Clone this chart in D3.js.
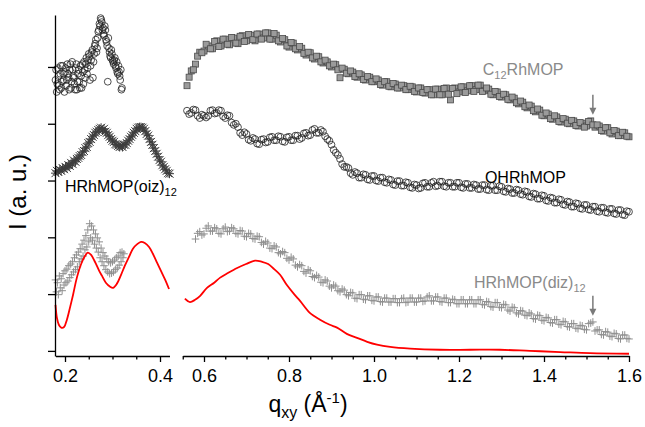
<!DOCTYPE html>
<html>
<head>
<meta charset="utf-8">
<script src="https://cdnjs.cloudflare.com/ajax/libs/d3/7.8.5/d3.min.js"></script>
<style>
  body { margin: 0; background: #fff; }
  svg { display: block; font-family: Arial, "Liberation Sans", sans-serif; }
  .axis path, .axis line { stroke: #000; stroke-width: 1.3; }
  .axis text { font-size: 18px; fill: #000; }
</style>
</head>
<body>
<script>
'use strict';

// ---- data (intensity in arbitrary units, q in 1/Angstrom) ----

// left panel, q sampling of each scan (two interleaved passes for OH)
var qLeftOH  = d3.range(0.18, 0.3201, 0.0025);
var qLeftOH2 = d3.range(0.18125, 0.3195, 0.0025);
var qLeftOiz = d3.range(0.18, 0.4201, 0.003);
var qLeftDiz = d3.range(0.18, 0.3241, 0.002);

// OHRhMOP, low q (open circles, top left)
var iLeftOH = [47.7, 45.6, 49.8, 46.8, 48.8, 46.3, 50.2, 47.7, 49.1, 46.7,
               50.5, 48.1, 49.5, 46.3, 50.9, 48.4, 47.0, 49.8, 46.0, 48.8,
               47.4, 50.2, 46.3, 49.1, 50.9, 48.1, 51.6, 49.8, 52.3, 47.7,
               51.2, 53.0, 50.9, 53.7, 54.8, 53.3, 56.2, 57.6, 58.6, 57.9,
               56.9, 55.5, 56.5, 54.4, 47.4, 53.3, 51.9, 53.0, 51.2, 50.5,
               51.6, 49.8, 49.1, 50.2, 48.4, 49.5, 46.3];
var iLeftOH2 = [49.5, 47.0, 48.4, 46.0, 50.2, 47.4, 48.8, 45.6, 49.8, 47.7,
                48.8, 46.0, 50.5, 47.4, 49.5, 48.1, 46.0, 50.5, 47.4, 49.5,
                46.3, 48.4, 50.5, 47.0, 49.5, 50.5, 48.8, 51.2, 51.9, 50.2,
                52.6, 48.1, 52.3, 54.1, 52.6, 55.1, 56.5, 57.2, 58.3, 56.5,
                55.8, 57.2, 54.8, 53.7, 55.1, 52.6, 51.6, 52.3, 50.9, 51.2,
                50.2, 50.9, 48.8, 49.1, 47.7, 46.0];

// HRhMOP(oiz)12 (dark crosses)
var iLeftOiz = [31.3, 31.7, 31.5, 31.9, 31.7, 32.2, 32.0, 32.4, 32.2, 32.7,
                32.6, 33.1, 32.9, 33.5, 33.3, 33.8, 34.0, 34.3, 34.5, 35.0,
                35.2, 35.7, 35.9, 36.6, 36.8, 37.3, 37.7, 38.0, 38.4, 38.6,
                38.9, 39.1, 39.3, 38.9, 39.1, 38.6, 38.4, 38.0, 37.7, 37.3,
                37.0, 36.8, 36.4, 36.3, 36.1, 35.9, 36.1, 35.9, 36.3, 36.3,
                36.6, 37.0, 37.3, 37.7, 38.0, 38.4, 38.7, 39.1, 39.3, 39.4,
                39.4, 39.3, 39.1, 38.7, 38.2, 37.9, 37.3, 36.8, 36.3, 35.7,
                35.2, 34.7, 34.2, 33.6, 33.3, 32.7, 32.4, 32.0, 31.7, 31.3,
                31.2];

// HRhMOP(diz)12, low q (grey plus)
var iLeftDiz = [12.5, 10.4, 12.0, 9.9, 13.2, 11.1, 12.7, 10.6, 13.6, 11.6,
                14.1, 12.0, 14.4, 12.3, 15.0, 12.9, 15.3, 13.4, 15.7, 13.9,
                16.4, 14.3, 16.9, 14.8, 17.4, 15.7, 18.0, 16.2, 18.8, 16.7,
                19.5, 17.8, 20.3, 18.3, 21.3, 19.2, 22.4, 19.9, 22.0, 19.5,
                21.3, 18.8, 20.6, 18.1, 19.9, 17.4, 19.2, 16.4, 18.1, 15.7,
                17.3, 15.0, 16.7, 14.3, 16.2, 13.9, 15.7, 13.6, 15.5, 13.7,
                15.7, 13.9, 16.0, 14.3, 16.4, 14.6, 16.7, 15.1, 17.3, 15.7,
                17.4, 16.4, 17.1];

// simulated curve (red), left and right
var qFitLeft = [0.18, 0.183, 0.187, 0.192, 0.198, 0.204, 0.211, 0.217, 0.225, 0.234,
                0.242, 0.248, 0.255, 0.263, 0.272, 0.278, 0.286, 0.295, 0.301, 0.309,
                0.318, 0.326, 0.335, 0.343, 0.352, 0.36, 0.368, 0.377, 0.385, 0.394,
                0.402, 0.411, 0.419];
var iFitLeft = [8.1, 5.8, 4.6, 4.1, 4.2, 5.5, 7.8, 9.9, 12.9, 15.3,
                16.7, 17.3, 16.9, 15.7, 14.1, 13.2, 12.0, 11.3, 11.1, 11.8,
                13.4, 15.0, 16.6, 18.0, 18.8, 19.2, 19.0, 18.3, 17.1, 15.5,
                14.1, 12.5, 10.9];
var qFitRight = [0.555, 0.567, 0.579, 0.591, 0.607, 0.624, 0.638, 0.656, 0.678, 0.699,
                 0.72, 0.736, 0.751, 0.765, 0.779, 0.795, 0.812, 0.826, 0.849, 0.873,
                 0.896, 0.913, 0.936, 0.96, 0.984, 1.007, 1.038, 1.085, 1.155, 1.226,
                 1.296, 1.367, 1.438, 1.508, 1.6];
var iFitRight = [9.2, 8.6, 9.0, 9.7, 11.1, 12.0, 12.9, 13.7, 14.6, 15.3,
                 15.9, 15.7, 15.3, 14.4, 13.4, 11.6, 10.0, 8.8, 6.7, 5.5,
                 4.6, 4.1, 3.0, 2.3, 1.6, 1.1, 0.7, 0.4, 0.2, 0.2,
                 0.2, 0.0, -0.2, -0.4, -0.5];

// right panel: two interleaved q passes, 0.56 .. 1.60 and 0.565 .. 1.595
var qRight  = d3.range(0.56, 1.6001, 0.01);
var qRight2 = d3.range(0.565, 1.5951, 0.01);

var iC12 = [46.7, 49.3, 50.5, 52.6, 52.8, 53.7, 53.2, 54.6, 53.7, 54.9,
            53.9, 55.1, 54.1, 55.5, 54.6, 55.6, 54.6, 55.8, 55.1, 56.0,
            54.9, 55.6, 54.4, 54.8, 53.5, 54.2, 53.0, 53.3, 52.1, 52.5,
            51.4, 51.8, 50.7, 50.9, 50.0, 50.4, 48.1, 49.6, 48.8, 49.1,
            48.2, 48.6, 47.7, 48.2, 47.4, 47.7, 46.8, 47.4, 46.5, 47.0,
            46.3, 46.7, 46.0, 46.5, 45.6, 46.3, 45.4, 46.0, 45.1, 46.1,
            45.1, 46.3, 44.2, 46.3, 45.6, 46.5, 45.8, 46.7, 46.0, 46.8,
            45.8, 46.1, 45.1, 45.6, 44.7, 45.1, 44.2, 44.5, 43.5, 43.8,
            42.8, 43.1, 42.1, 42.4, 41.4, 41.7, 40.8, 41.2, 40.3, 40.8,
            40.0, 40.5, 39.6, 40.1, 39.6, 40.5, 39.4, 39.6, 38.7, 39.3,
            38.2, 38.7, 37.9, 38.4, 37.7];
var iC12b = [48.2, 49.5, 51.9, 52.5, 54.0, 53.2, 54.5, 53.6, 54.9, 54.0,
             55.2, 54.2, 55.4, 54.5, 55.7, 54.8, 55.8, 54.9, 56.0, 54.9,
             55.9, 54.6, 55.0, 53.7, 54.3, 53.2, 53.6, 52.4, 52.6, 51.6,
             51.9, 50.9, 51.2, 50.2, 50.5, 49.5, 49.8, 48.9, 49.3, 48.3,
             48.8, 47.8, 48.3, 47.4, 47.9, 46.9, 47.4, 46.6, 47.1, 46.3,
             46.8, 46.0, 46.6, 45.7, 46.3, 45.5, 46.0, 45.1, 46.1, 45.1,
             46.2, 45.2, 46.2, 45.3, 46.5, 45.5, 46.7, 45.7, 46.8, 45.7,
             46.3, 45.2, 45.7, 44.8, 45.2, 44.3, 44.7, 43.7, 44.0, 43.0,
             43.3, 42.3, 42.6, 41.5, 41.9, 40.9, 41.4, 40.4, 40.9, 40.1,
             40.6, 39.7, 40.2, 39.4, 40.4, 39.8, 39.8, 38.8, 39.3, 38.4,
             38.8, 37.9, 38.5, 37.8];

var iOH = [42.3, 41.9, 42.4, 41.0, 41.4, 41.4, 42.4, 41.9, 42.3, 41.0,
           41.4, 39.8, 39.4, 38.0, 38.2, 37.0, 37.3, 36.4, 37.3, 36.8,
           37.7, 37.1, 37.7, 36.8, 37.7, 37.1, 37.9, 37.5, 38.4, 38.0,
           39.1, 38.4, 38.6, 37.3, 36.3, 34.9, 33.8, 32.4, 32.2, 31.0,
           31.3, 30.5, 31.0, 30.1, 30.8, 29.9, 30.5, 29.6, 30.1, 29.2,
           29.9, 29.1, 29.6, 28.7, 29.2, 28.7, 29.6, 28.9, 29.8, 29.1,
           29.8, 28.9, 29.6, 28.9, 29.6, 28.7, 29.4, 28.7, 29.2, 28.5,
           29.2, 28.3, 29.1, 28.3, 28.9, 28.0, 28.5, 27.8, 28.3, 27.5,
           28.0, 27.1, 27.6, 26.8, 27.3, 26.4, 26.9, 26.1, 26.6, 25.7,
           26.2, 25.4, 25.9, 25.0, 25.7, 24.8, 25.4, 24.5, 25.2, 24.3,
           25.0, 24.1, 24.8, 23.9, 24.5];
var iOHb = [41.7, 42.5, 41.4, 41.6, 41.1, 42.3, 41.8, 42.4, 41.3, 41.5,
            40.2, 40.0, 38.4, 38.5, 37.2, 37.5, 36.5, 37.2, 36.7, 37.6,
            37.1, 37.8, 36.9, 37.6, 37.1, 37.9, 37.3, 38.3, 37.9, 38.9,
            38.4, 38.9, 37.8, 37.0, 35.4, 34.5, 32.9, 32.4, 31.3, 31.5,
            30.5, 31.1, 30.2, 30.8, 30.0, 30.5, 29.7, 30.2, 29.3, 29.9,
            29.1, 29.7, 28.8, 29.3, 28.6, 29.5, 28.9, 29.6, 29.0, 29.8,
            29.0, 29.6, 28.9, 29.6, 28.8, 29.4, 28.7, 29.3, 28.5, 29.2,
            28.4, 29.1, 28.3, 29.0, 28.1, 28.6, 27.8, 28.4, 27.6, 28.1,
            27.2, 27.7, 26.8, 27.4, 26.5, 27.0, 26.1, 26.7, 25.8, 26.3,
            25.4, 26.0, 25.1, 25.7, 24.9, 25.4, 24.6, 25.2, 24.4, 25.0,
            24.2, 24.8, 24.0, 24.6];

var iDiz = [null, null, 19.7, 21.0, 20.6, 22.0, 21.1, 21.5, 20.6, 21.8,
            21.1, 21.5, 20.6, 21.1, 20.1, 20.6, 19.7, 20.1, 18.8, 19.0,
            18.0, 18.3, 17.1, 17.3, 16.0, 16.2, 14.8, 15.0, 13.7, 14.1,
            12.9, 13.0, 12.0, 12.3, 11.1, 11.4, 10.4, 10.7, 9.7, 10.2,
            9.2, 9.9, 9.0, 9.7, 8.8, 9.5, 8.6, 9.3, 8.6, 9.2,
            8.5, 9.3, 8.6, 9.3, 8.6, 9.3, 8.8, 9.7, 8.8, 9.5,
            8.6, 9.3, 8.5, 9.0, 8.3, 9.0, 8.3, 9.0, 8.3, 9.0,
            8.1, 8.6, 7.7, 8.5, 7.6, 8.1, 7.0, 7.6, 6.5, 7.0,
            6.2, 6.5, 5.6, 6.2, 5.3, 5.8, 4.9, 5.5, 4.6, 5.1,
            4.2, 4.8, 3.9, 4.4, 3.7, 4.9, 3.5, 3.7, 2.8, 3.3,
            2.5, 3.0, 2.1, 2.8, 2.1];
var iDizb = [null, null, 20.7, 20.4, 21.6, 21.1, 21.7, 20.7, 21.5, 21.0,
             21.7, 20.7, 21.2, 20.2, 20.7, 19.8, 20.2, 19.1, 19.3, 18.1,
             18.5, 17.3, 17.5, 16.3, 16.5, 15.1, 15.2, 14.0, 14.3, 13.1,
             13.3, 12.1, 12.5, 11.4, 11.6, 10.6, 10.9, 9.9, 10.3, 9.3,
             9.9, 9.1, 9.7, 8.9, 9.5, 8.7, 9.3, 8.6, 9.2, 8.5,
             9.2, 8.5, 9.3, 8.6, 9.3, 8.7, 9.5, 8.8, 9.5, 8.7,
             9.3, 8.5, 9.1, 8.3, 9.0, 8.3, 9.0, 8.3, 9.0, 8.2,
             8.7, 7.8, 8.5, 7.7, 8.2, 7.2, 7.7, 6.7, 7.1, 6.3,
             6.7, 5.7, 6.3, 5.4, 5.9, 5.0, 5.5, 4.7, 5.2, 4.3,
             4.8, 4.0, 4.5, 3.8, 4.8, 5.1, 3.7, 2.9, 3.4, 2.6,
             3.1, 2.2, 2.8, 2.2];

// arrows marking the 1.51 reflection: [q, from, to]
var arrowMarks = [[1.515, 45.1, 41.6], [1.515, 9.7, 6.2]];

// ticks
var yTicks = [0, 10, 20, 30, 40, 50];
var xMajorLeft = [0.2, 0.4];
var xMinorLeft = [0.25, 0.3, 0.35];
var xMajorRight = [0.6, 0.8, 1.0, 1.2, 1.4, 1.6];
var xMinorRight = [0.55, 0.65, 0.7, 0.75, 0.85, 0.9, 0.95, 1.05, 1.1, 1.15,
                   1.25, 1.3, 1.35, 1.45, 1.5, 1.55];

// ---- drawing ----

var svg = d3.select('body').append('svg')
            .attr('width', 645)
            .attr('height', 427);

var xLeft = d3.scaleLinear().domain([0.18, 0.42]).range([55.5, 169.5]);
var xRight = d3.scaleLinear().domain([0.55, 1.6]).range([182.75, 629]);
var y = d3.scaleLinear().domain([-0.9, 59.15]).range([356, 15]);

function pairs(qs, vals) {
    return d3.zip(qs, vals).filter(function (d) { return d[1] !== null; });
}

function circles(qs, vals, x) {
    svg.append('g').selectAll('circle')
        .data(pairs(qs, vals))
        .enter()
        .append('circle')
        .attr('cx', function (d) { return x(d[0]); })
        .attr('cy', function (d) { return y(d[1]); })
        .attr('r', 3.4)
        .style('fill', 'none')
        .style('stroke', '#222')
        .style('stroke-width', 0.8);
}

function squares(qs, vals, x) {
    svg.append('g').selectAll('rect')
        .data(pairs(qs, vals))
        .enter()
        .append('rect')
        .attr('x', function (d) { return x(d[0]) - 3; })
        .attr('y', function (d) { return y(d[1]) - 3; })
        .attr('width', 6)
        .attr('height', 6)
        .style('fill', '#9b9b9b')
        .style('stroke', '#4a4a4a')
        .style('stroke-width', 0.8);
}

function glyphs(qs, vals, x, shape, color) {
    svg.append('g').selectAll('path')
        .data(pairs(qs, vals))
        .enter()
        .append('path')
        .attr('transform', function (d) { return 'translate(' + x(d[0]) + ',' + y(d[1]) + ')'; })
        .attr('d', shape)
        .style('fill', 'none')
        .style('stroke', color)
        .style('stroke-width', 1);
}

var starShape = 'M-4,-4L4,4M-4,4L4,-4M-4.5,0H4.5M0,-4.5V4.5';
var plusShape = 'M-3.8,0H3.8M0,-3.8V3.8';

function redLine(qs, vals, x) {
    var line = d3.line()
        .x(function (d) { return x(d[0]); })
        .y(function (d) { return y(d[1]); })
        .curve(d3.curveCatmullRom);
    svg.append('path')
        .datum(pairs(qs, vals))
        .attr('d', line)
        .style('fill', 'none')
        .style('stroke', '#ff0000')
        .style('stroke-width', 1.8);
}

// left panel
circles(qLeftOH, iLeftOH, xLeft);
circles(qLeftOH2, iLeftOH2, xLeft);
glyphs(qLeftOiz, iLeftOiz, xLeft, starShape, '#3d3d3d');
glyphs(qLeftDiz, iLeftDiz, xLeft, plusShape, '#8f8f8f');
redLine(qFitLeft, iFitLeft, xLeft);

// right panel
squares(qRight, iC12, xRight);
squares(qRight2, iC12b, xRight);
circles(qRight, iOH, xRight);
circles(qRight2, iOHb, xRight);
glyphs(qRight, iDiz, xRight, plusShape, '#8f8f8f');
glyphs(qRight2, iDizb, xRight, plusShape, '#8f8f8f');
redLine(qFitRight, iFitRight, xRight);

// arrows
arrowMarks.forEach(function (a) {
    var ax = xRight(a[0]), y0 = y(a[1]), y1 = y(a[2]);
    svg.append('line')
        .attr('x1', ax).attr('x2', ax)
        .attr('y1', y0).attr('y2', y1 - 6)
        .style('stroke', '#7a7a7a')
        .style('stroke-width', 1.5);
    svg.append('path')
        .attr('d', 'M' + (ax - 3.5) + ',' + (y1 - 7) + 'L' + (ax + 3.5) + ',' + (y1 - 7) + 'L' + ax + ',' + y1 + 'Z')
        .style('fill', '#7a7a7a');
});

// axes
svg.append('g').attr('class', 'axis')
    .attr('transform', 'translate(55,0)')
    .call(d3.axisLeft(y).tickValues(yTicks).tickSize(7).tickSizeOuter(0).tickFormat(''));

function xAxis(x, major, minor) {
    var g = svg.append('g').attr('class', 'axis').attr('transform', 'translate(0,356)');
    g.call(d3.axisBottom(x).tickValues(major).tickSize(6).tickSizeOuter(0).tickFormat(d3.format('.1f')));
    g.selectAll('text').attr('y', 13);
    var m = svg.append('g').attr('class', 'axis').attr('transform', 'translate(0,356)');
    m.call(d3.axisBottom(x).tickValues(minor).tickSize(3.5).tickFormat(''));
    m.select('.domain').remove();
}
xAxis(xLeft, xMajorLeft, xMinorLeft);
xAxis(xRight, xMajorRight, xMinorRight);

// axis titles
svg.append('text')
    .attr('transform', 'translate(26,192) rotate(-90)')
    .attr('text-anchor', 'middle')
    .style('font-size', '24px')
    .text('I (a. u.)');

var xt = svg.append('text')
    .attr('x', 308)
    .attr('y', 412)
    .attr('text-anchor', 'middle')
    .style('font-size', '23px');
xt.append('tspan').text('q');
xt.append('tspan').attr('dy', 6).style('font-size', '16px').text('xy');
xt.append('tspan').attr('dy', -6).text(' (\u00c5');
xt.append('tspan').attr('dy', -9).style('font-size', '15px').text('-1');
xt.append('tspan').attr('dy', 9).text(')');

// curve labels
function label(x, yv, name, sub, rest, color) {
    var t = svg.append('text')
        .attr('x', x)
        .attr('y', y(yv))
        .style('font-size', '16px')
        .style('fill', color);
    t.append('tspan').text(name);
    t.append('tspan').attr('dy', 4).style('font-size', '11px').text(sub);
    if (rest) {
        t.append('tspan').attr('dy', -4).text(rest);
    }
}
label(xRight(1.256), 48.6, 'C', '12', 'RhMOP', '#8a8a8a');
label(xRight(1.261), 29.6, 'OHRhMOP', '', '', '#000');
label(xRight(1.235), 11.1, 'HRhMOP(diz)', '12', '', '#8a8a8a');
label(xLeft(0.2), 28.0, 'HRhMOP(oiz)', '12', '', '#000');

</script>
</body>
</html>
